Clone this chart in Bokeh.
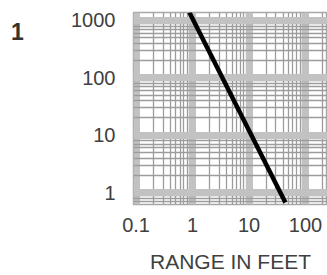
from bokeh.plotting import figure
from bokeh.models import LogTicker, CustomJSTickFormatter, Range1d, Div
from bokeh.layouts import row
from bokeh.embed import file_html
from bokeh.resources import INLINE

# Data (log-log: level vs range in feet, ~inverse square)
range_ft = [0.88, 44.0]
level = [1376.0, 0.67]

panel_label = "1"
x_title = "RANGE IN FEET"

FONT = "Liberation Sans"

p = figure(width=297, height=275, x_axis_type="log", y_axis_type="log",
           x_range=Range1d(0.09, 245), y_range=Range1d(0.62, 1376),
           output_backend="svg", toolbar_location=None,
           min_border_left=103, min_border_right=0, min_border_top=12,
           min_border_bottom=70)

p.line(range_ft, level, line_color="black", line_width=4.5)

fmt = CustomJSTickFormatter(code="return Number(tick.toPrecision(6)).toString();")
p.xaxis.ticker = LogTicker(num_minor_ticks=10)
p.yaxis.ticker = LogTicker(num_minor_ticks=10)
p.xgrid.ticker = p.xaxis.ticker
p.ygrid.ticker = p.yaxis.ticker
for ax in (p.xaxis[0], p.yaxis[0]):
    ax.formatter = fmt
    ax.major_tick_line_color = None
    ax.minor_tick_line_color = None
    ax.axis_line_color = None
    ax.major_label_text_font = FONT
    ax.major_label_text_font_size = "20px"
    ax.major_label_text_color = "#404040"

p.xaxis.major_label_standoff = 7
p.yaxis.major_label_standoff = 12
p.xaxis.axis_label = x_title
p.xaxis.axis_label_text_font = FONT
p.xaxis.axis_label_text_font_size = "21px"
p.xaxis.axis_label_text_font_style = "normal"
p.xaxis.axis_label_text_color = "#404040"
p.xaxis.axis_label_standoff = 15

for g in (p.xgrid[0], p.ygrid[0]):
    g.grid_line_color = "#c2c2c2"
    g.grid_line_width = 7
    g.grid_line_alpha = 1.0
    g.minor_grid_line_color = "#9c9c9c"
    g.minor_grid_line_width = 1.3
    g.minor_grid_line_alpha = 1.0

p.outline_line_color = "#a8a8a8"
p.outline_line_width = 1.5
p.background_fill_color = "white"
p.border_fill_color = "white"

label_div = Div(
    text=('<div style="position:relative;left:11px;top:19px;'
          'font-family:\'Liberation Sans\';font-size:23px;font-weight:bold;'
          'color:#333333;line-height:26px;">' + panel_label + '</div>'),
    width=30, height=275, margin=0)

layout = row(label_div, p, spacing=0)

open("out.html", "w").write(file_html(layout, INLINE))
